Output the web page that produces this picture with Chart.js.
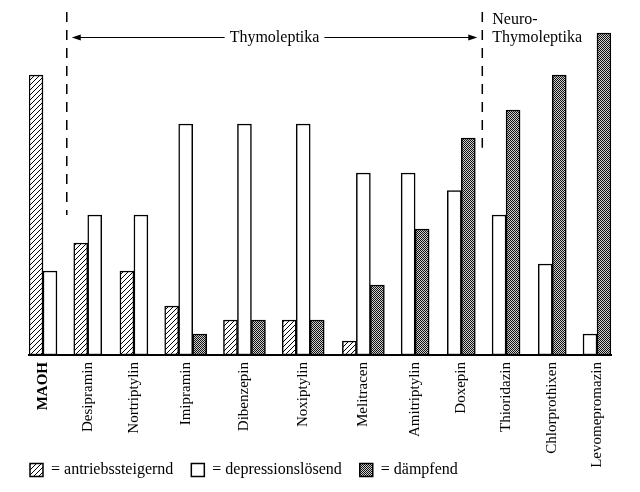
<!DOCTYPE html>
<html>
<head>
<meta charset="utf-8">
<script src="https://cdn.jsdelivr.net/npm/chart.js@4.4.0/dist/chart.umd.min.js"></script>
<style>
  html, body { margin: 0; padding: 0; background: #fff; }
</style>
</head>
<body>
<canvas id="chart" width="640" height="492"></canvas>
<script>
// Wirkprofile der Antidepressiva (relative Stärke)
const drugs = ['MAOH', 'Desipramin', 'Nortriptylin', 'Imipramin', 'Dibenzepin', 'Noxiptylin',
  'Melitracen', 'Amitriptylin', 'Doxepin', 'Thioridazin', 'Chlorprothixen', 'Levomepromazin'];
// position of each drug on the axis (centre of the "depressionslösend" bar)
const drugPos = [1.5, 4.7, 8.0, 11.2, 15.4, 19.6, 23.9, 27.1, 30.4, 33.6, 36.9, 40.1];
const antriebssteigernd = [40, 16, 12, 7, 5, 5, 2, null, null, null, null, null];
const depressionsloesend = [12, 20, 20, 33, 33, 33, 26, 26, 23.5, 20, 13, 3];
const daempfend = [null, null, null, 3, 5, 5, 10, 18, 31, 35, 40, 46];
const seriesNames = ['antriebssteigernd', 'depressionslösend', 'dämpfend'];

// annotation: groups split at these axis positions
const groupSplit = [2.7, 32.4];
const groupNames = ['Thymoleptika', 'Neuro-', 'Thymoleptika'];

const serif = "'Liberation Serif', 'DejaVu Serif', serif";

function hatch() {
  let c = document.createElement('canvas');
  c.width = 5; c.height = 5;
  let g = c.getContext('2d');
  g.fillStyle = '#fff';
  g.fillRect(0, 0, 5, 5);
  g.strokeStyle = '#000';
  g.lineWidth = 1;
  g.beginPath();
  g.moveTo(-1, 6); g.lineTo(6, -1);
  g.moveTo(-1, 1); g.lineTo(1, -1);
  g.moveTo(4, 6); g.lineTo(6, 4);
  g.stroke();
  return g.createPattern(c, 'repeat');
}

function dots() {
  let c = document.createElement('canvas');
  c.width = 2; c.height = 2;
  let g = c.getContext('2d');
  g.fillStyle = '#d0d0d0';
  g.fillRect(0, 0, 2, 2);
  g.fillStyle = '#111';
  g.fillRect(0, 0, 1, 1);
  g.fillRect(1, 1, 1, 1);
  return g.createPattern(c, 'repeat');
}

// bars sit left / middle / right of each drug position
function toPoints(values, shift) {
  let pts = [];
  values.forEach((v, i) => {
    if (v !== null) pts.push({ x: drugPos[i] + shift, y: v });
  });
  return pts;
}

// label goes under the middle of the bars a drug actually has
let labelPos = drugPos.map((p, i) => {
  let xs = [];
  if (antriebssteigernd[i] !== null) xs.push(p - 1);
  xs.push(p);
  if (daempfend[i] !== null) xs.push(p + 1);
  return (Math.min(...xs) + Math.max(...xs)) / 2;
});

const whiteBg = {
  id: 'whiteBg',
  beforeDraw(chart) {
    let ctx = chart.ctx;
    ctx.save();
    ctx.fillStyle = '#fff';
    ctx.fillRect(0, 0, chart.width, chart.height);
    ctx.restore();
  }
};

// long rotated names reach down beside the legend, so let them draw past the axis box
const labelRoom = {
  id: 'labelRoom',
  afterLayout(chart) {
    chart.scales.x.bottom = chart.height;
  }
};

const groups = {
  id: 'groups',
  afterDraw(chart) {
    let ctx = chart.ctx;
    let x = chart.scales.x, y = chart.scales.y;
    let xl = x.getPixelForValue(groupSplit[0]);
    let xr = x.getPixelForValue(groupSplit[1]);
    ctx.save();
    ctx.strokeStyle = '#000';
    ctx.fillStyle = '#000';
    ctx.lineWidth = 1.5;
    ctx.setLineDash([10, 8]);
    ctx.beginPath();
    ctx.moveTo(xl, y.getPixelForValue(49));
    ctx.lineTo(xl, y.getPixelForValue(20));
    ctx.moveTo(xr, y.getPixelForValue(49));
    ctx.lineTo(xr, y.getPixelForValue(29.6));
    ctx.stroke();
    ctx.setLineDash([]);

    // double arrow with the label in the middle
    let ay = Math.round(y.getPixelForValue(45.4)) + 0.5;
    let a0 = xl + 5, a1 = xr - 5;
    ctx.font = '16px ' + serif;
    ctx.textBaseline = 'middle';
    ctx.textAlign = 'center';
    let mid = (a0 + a1) / 2;
    let tw = ctx.measureText(groupNames[0]).width;
    ctx.fillText(groupNames[0], mid, ay);
    ctx.lineWidth = 1;
    ctx.beginPath();
    ctx.moveTo(a0 + 6, ay); ctx.lineTo(mid - tw / 2 - 5, ay);
    ctx.moveTo(mid + tw / 2 + 5, ay); ctx.lineTo(a1 - 6, ay);
    ctx.stroke();
    ctx.beginPath();
    ctx.moveTo(a0, ay); ctx.lineTo(a0 + 9, ay - 3); ctx.lineTo(a0 + 9, ay + 3); ctx.closePath();
    ctx.moveTo(a1, ay); ctx.lineTo(a1 - 9, ay - 3); ctx.lineTo(a1 - 9, ay + 3); ctx.closePath();
    ctx.fill();

    ctx.textAlign = 'left';
    ctx.fillText(groupNames[1], xr + 10, y.getPixelForValue(47.9));
    ctx.fillText(groupNames[2], xr + 10, ay);
    ctx.restore();
  }
};

const ctx = document.getElementById('chart').getContext('2d');
const barStyle = { borderColor: '#000', borderWidth: 1.5, borderSkipped: false };

new Chart(ctx, {
  type: 'bar',
  data: {
    datasets: [
      Object.assign({ label: seriesNames[0], data: toPoints(antriebssteigernd, -1), backgroundColor: hatch() }, barStyle),
      Object.assign({ label: seriesNames[1], data: toPoints(depressionsloesend, 0), backgroundColor: '#fff' }, barStyle),
      Object.assign({ label: seriesNames[2], data: toPoints(daempfend, 1), backgroundColor: dots() }, barStyle)
    ]
  },
  options: {
    responsive: false,
    animation: false,
    grouped: false,
    categoryPercentage: 1,
    barPercentage: 1,
    layout: { padding: { top: 5, right: 29, bottom: 4, left: 12 } },
    scales: {
      x: {
        type: 'linear',
        offset: false,
        min: drugPos[0] - 1.5,
        max: drugPos[drugPos.length - 1] + 1.5,
        grid: { display: false, drawTicks: false },
        border: { display: true, color: '#000', width: 2 },
        afterBuildTicks: s => { s.ticks = labelPos.map(v => ({ value: v })); },
        afterFit: s => { s.height = 89; s.paddingLeft = 0; s.paddingRight = 0; },
        ticks: {
          autoSkip: false,
          minRotation: 90,
          maxRotation: 90,
          padding: 7,
          color: '#000',
          font: c => ({ family: serif, size: 15, weight: c.index === 0 ? 'bold' : 'normal' }),
          callback: (v, i) => drugs[i]
        }
      },
      y: {
        min: 0,
        max: 50,
        grid: { display: false },
        border: { display: false },
        ticks: { display: false },
        afterFit: s => { s.width = 17; }
      }
    },
    plugins: {
      tooltip: { enabled: false },
      legend: {
        position: 'bottom',
        align: 'start',
        labels: {
          color: '#000',
          font: { family: serif, size: 16 },
          boxWidth: 13,
          boxHeight: 13,
          padding: 18,
          generateLabels: chart => Chart.defaults.plugins.legend.labels.generateLabels(chart)
            .map(l => Object.assign(l, { text: '= ' + l.text }))
        }
      }
    }
  },
  plugins: [whiteBg, labelRoom, groups]
});
</script>
</body>
</html>
